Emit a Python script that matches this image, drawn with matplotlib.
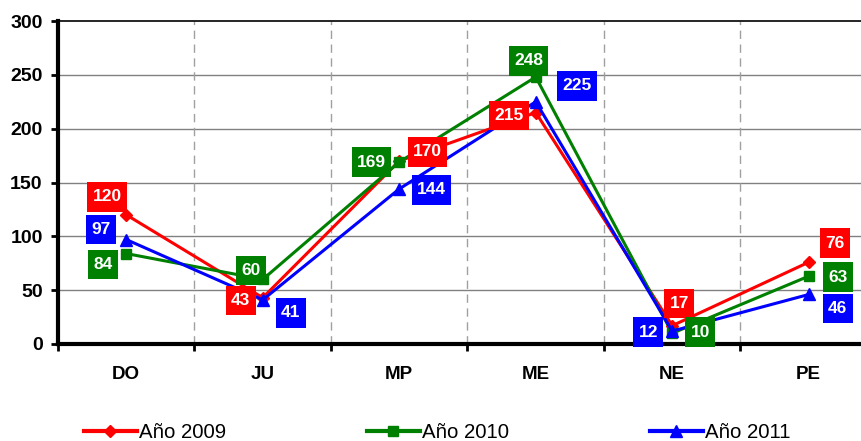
import matplotlib.pyplot as plt
from matplotlib.path import Path

# Data
categories = ['DO', 'JU', 'MP', 'ME', 'NE', 'PE']
y2009 = [120, 43, 170, 215, 17, 76]
y2010 = [84, 60, 169, 248, 10, 63]
y2011 = [97, 41, 144, 225, 12, 46]

plt.rcParams['font.family'] = ['Liberation Sans', 'DejaVu Sans']


def label_box(x0, y0, width, height, mutation_size):
    # wider top/bottom padding than sides, like the original boxes
    px = 0.3 * mutation_size
    py = 0.42 * mutation_size
    x0, y0 = x0 - px, y0 - py
    x1, y1 = x0 + width + 2 * px, y0 + height + 2 * py
    return Path([(x0, y0), (x1, y0), (x1, y1), (x0, y1), (x0, y0)], closed=True)


fig = plt.figure(figsize=(8.62, 4.41), dpi=100)
# axes runs past the right edge, like the cropped original
ax = fig.add_axes([58 / 862, 1 - 344 / 441, 819 / 862, 323 / 441])

x = list(range(len(categories)))
series = [
    ('Año 2009', y2009, '#FF0000', 'D', 6),
    ('Año 2010', y2010, '#008000', 's', 6.5),
    ('Año 2011', y2011, '#0000FF', '^', 8),
]

# label box offsets in pixels (dx, dy) from each point
offsets = {
    'Año 2009': [(-19, 18), (-22, -3), (28, 9), (-27, -3), (7, 22), (26, 19)],
    'Año 2010': [(-23, -11), (-12, 9), (-28, 0), (-7, 16), (28, 1), (29, -1)],
    'Año 2011': [(-25, 10), (28, -13), (32, -1), (41, 16), (-24, -1), (29, -14)],
}

for name, vals, col, mk, ms in series:
    ax.plot(x, vals, color=col, lw=2.2, marker=mk, markersize=ms, label=name, zorder=3)

for name, vals, col, mk, ms in series:
    for xi, v, off in zip(x, vals, offsets[name]):
        ax.annotate(str(v), (xi, v), xytext=off, textcoords='offset pixels',
                    ha='center', va='center', color='white', fontsize=12.5,
                    fontweight='bold', zorder=5,
                    bbox=dict(boxstyle=label_box, fc=col, ec='none'))

ax.set_xlim(-0.5, 5.5)
ax.set_ylim(0, 300)
ax.set_yticks(range(0, 301, 50))
ax.tick_params(axis='y', labelsize=14, length=5, width=2, pad=6)
for lbl in ax.get_yticklabels():
    lbl.set_fontweight('bold')

# category boundaries as major ticks, labels at centres
ax.set_xticks([i + 0.5 for i in range(-1, 6)])
ax.set_xticklabels([])
ax.tick_params(axis='x', which='major', length=5, width=2)
ax.set_xticks(x, minor=True)
ax.set_xticklabels(categories, minor=True, fontsize=13.5, fontweight='bold')
ax.tick_params(axis='x', which='minor', length=0, pad=16)

for yv in range(50, 300, 50):
    ax.axhline(yv, color='#808080', lw=1, zorder=1)
for i in range(5):
    ax.axvline(i + 0.5, color='#A0A0A0', lw=1, ls=(0, (6, 4)), zorder=1)

ax.spines['left'].set_linewidth(3)
ax.spines['bottom'].set_linewidth(3)
ax.spines['top'].set_linewidth(1.2)

leg = fig.legend(loc='center', bbox_to_anchor=(0.507, 0.02), ncol=3, frameon=False,
                 fontsize=14.7, handlelength=2.6, handletextpad=0.1, columnspacing=6.9)
for h in leg.legend_handles:
    h.set_linewidth(3)

fig.savefig('out.png', dpi=100)
